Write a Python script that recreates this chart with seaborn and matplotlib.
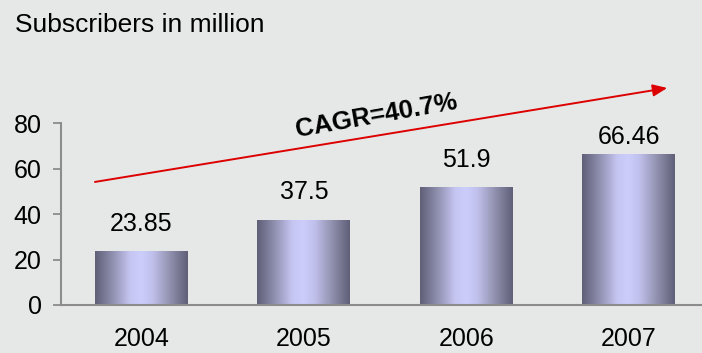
import numpy as np
import pandas as pd
import matplotlib
matplotlib.use('Agg')
import matplotlib.pyplot as plt
import seaborn as sns
from matplotlib.colors import LinearSegmentedColormap

# ---- data ----
years = ['2004', '2005', '2006', '2007']
subscribers = [23.85, 37.5, 51.9, 66.46]
value_labels = ['23.85', '37.5', '51.9', '66.46']
yticks = [0, 20, 40, 60, 80]
title_text = 'Subscribers in million'
cagr_text = 'CAGR=40.7%'

# ---- style ----
label_offsets_pt = [14.4, 15.0, 14.4, 7.2]
BG = '#E6E8E7'
SPINE = '#8c8c8c'

sns.set_theme(style='white')
plt.rcParams['font.family'] = ['Liberation Sans', 'DejaVu Sans']

fig = plt.figure(figsize=(7.02, 3.53), dpi=100, facecolor=BG)
ax = fig.add_axes([61 / 702, 48 / 353, 641 / 702, 245 / 353])
ax.set_facecolor(BG)

df = pd.DataFrame({'year': years, 'subs': subscribers})
sns.barplot(data=df, x='year', y='subs', ax=ax, width=0.572,
            color='#9a9ac0', saturation=1, zorder=2)

cmap = LinearSegmentedColormap.from_list('bar', [
    (0.0, '#5f5f78'), (0.18, '#8d8dad'), (0.38, '#c6c6f3'),
    (0.5, '#cdcdfc'), (0.62, '#c0c0ec'), (0.82, '#8e8eab'), (1.0, '#5f5f78')])
grad = np.linspace(0, 1, 256).reshape(1, -1)
for p in list(ax.patches):
    x0, y0 = p.get_x(), p.get_y()
    w, h = p.get_width(), p.get_height()
    im = ax.imshow(grad, extent=[x0, x0 + w, y0, y0 + h], aspect='auto',
                   cmap=cmap, zorder=2, interpolation='bicubic')
    im.set_clip_path(p)
    p.set_facecolor('none')
    p.set_edgecolor('none')

ax.set_xlim(-0.495, 3.45)
ax.set_ylim(0, 107.7)
ax.set_yticks(yticks)
ax.set_xlabel('')
ax.set_ylabel('')

for s in ['top', 'right']:
    ax.spines[s].set_visible(False)
for s in ['left', 'bottom']:
    ax.spines[s].set_color(SPINE)
    ax.spines[s].set_linewidth(1.5)
ax.spines['left'].set_bounds(0, 80)

ax.tick_params(axis='y', left=True, length=6, width=1.3, color=SPINE,
               pad=8, labelsize=18, labelcolor='black')
ax.tick_params(axis='x', bottom=False, length=0, pad=16, labelsize=18,
               labelcolor='black')

for i, (v, lab, off) in enumerate(zip(subscribers, value_labels, label_offsets_pt)):
    ax.annotate(lab, (i, v), xytext=(0, off), textcoords='offset points',
                ha='center', va='baseline', fontsize=18, color='black')

# CAGR arrow
ax.annotate('', xy=(3.236, 95.4), xytext=(-0.286, 54.1),
            arrowprops=dict(arrowstyle='-|>,head_length=0.86,head_width=0.36',
                            color='#dd0000', lw=1.4, shrinkA=0, shrinkB=0,
                            mutation_scale=10), zorder=3)
ax.text(1.447, 83.0, cagr_text, rotation=10, rotation_mode='anchor',
        ha='center', va='center', fontsize=18.5, fontweight='bold', color='black')

fig.text(15 / 702, (353 - 32) / 353, title_text, ha='left', va='baseline',
         fontsize=19, color='black')

fig.savefig('out.png', dpi=100, facecolor=BG)
